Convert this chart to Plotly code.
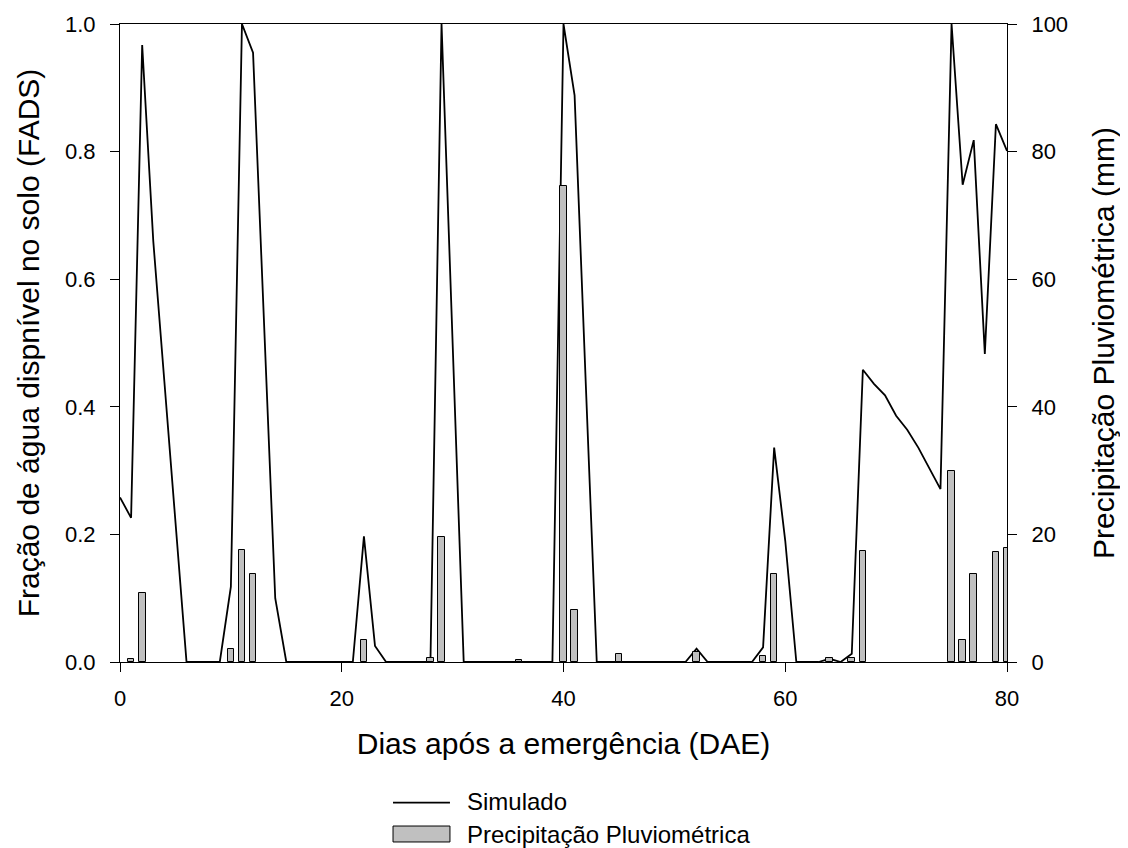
import plotly.graph_objects as go

days = list(range(0, 81))
fads = [0.258, 0.226, 0.967, 0.66, 0.44, 0.22, 0.0, 0.0, 0.0, 0.0,
        0.118, 1.0, 0.955, 0.53, 0.10, 0.0, 0.0, 0.0, 0.0, 0.0,
        0.0, 0.0, 0.197, 0.025, 0.0, 0.0, 0.0, 0.0, 0.0, 1.0,
        0.5, 0.0, 0.0, 0.0, 0.0, 0.0, 0.0, 0.0, 0.0, 0.0,
        1.0, 0.888, 0.44, 0.0, 0.0, 0.0, 0.0, 0.0, 0.0, 0.0,
        0.0, 0.0, 0.021, 0.0, 0.0, 0.0, 0.0, 0.0, 0.023, 0.336,
        0.19, 0.0, 0.0, 0.0, 0.005, 0.0, 0.013, 0.458, 0.436, 0.418,
        0.386, 0.364, 0.336, 0.304, 0.271, 1.0, 0.748, 0.818, 0.483, 0.843,
        0.801]

rain_days = [1, 2, 10, 11, 12, 22, 28, 29, 36, 40, 41, 45, 52, 58, 59, 64, 66, 67, 75, 76, 77, 79, 80]
rain_mm = [0.4, 10.8, 2.0, 17.6, 13.8, 3.5, 0.6, 19.6, 0.3, 74.6, 8.1, 1.3, 1.5, 1.0, 13.8, 0.6, 0.7, 17.4, 30.0, 3.5, 13.8, 17.2, 17.9]

legend_labels = ["Simulado", "Precipitação Pluviométrica"]

FONT = "Liberation Sans, Arial, sans-serif"
BAR_FILL = "#c0c0c0"

fig = go.Figure()
fig.add_trace(go.Scatter(x=days, y=fads, mode="lines", name=legend_labels[0],
                         line=dict(color="black", width=1.8), yaxis="y", showlegend=False))
fig.add_trace(go.Bar(x=rain_days, y=rain_mm, name=legend_labels[1], yaxis="y2", showlegend=False,
                     width=0.6, marker=dict(color=BAR_FILL, line=dict(color="black", width=1))))

axis_common = dict(showgrid=False, zeroline=False, showline=True, linecolor="black", linewidth=1,
                   ticks="outside", ticklen=9, tickcolor="black", tickwidth=1, automargin=False,
                   tickfont=dict(family=FONT, size=22, color="black"))

# custom legend (wide swatches as in the reference)
shapes = [
    dict(type="line", xref="paper", yref="paper", x0=0.3078, x1=0.3720, y0=-0.2205, y1=-0.2205,
         line=dict(color="black", width=1.8)),
    dict(type="rect", xref="paper", yref="paper", x0=0.3078, x1=0.3720, y0=-0.2571, y1=-0.2821,
         fillcolor=BAR_FILL, line=dict(color="black", width=1)),
]
annotations = [
    dict(xref="paper", yref="paper", x=0.389, y=-0.2194, text=legend_labels[0], showarrow=False,
         xanchor="left", yanchor="middle", font=dict(family=FONT, size=24, color="black")),
    dict(xref="paper", yref="paper", x=0.389, y=-0.2696, text=legend_labels[1], showarrow=False,
         xanchor="left", yanchor="middle", font=dict(family=FONT, size=24, color="black")),
]

fig.update_layout(
    width=1112, height=840,
    margin=dict(l=112, r=113, t=16, b=186),
    paper_bgcolor="white", plot_bgcolor="white",
    font=dict(family=FONT, color="black"),
    xaxis=dict(range=[0, 80], dtick=20, mirror=True, ticklabelstandoff=8,
               title=dict(text="Dias após a emergência (DAE)", font=dict(family=FONT, size=30), standoff=22),
               **axis_common),
    yaxis=dict(range=[0, 1], dtick=0.2, tickformat=".1f", ticklabelstandoff=10,
               title=dict(text="Fração de água dispnível no solo (FADS)", font=dict(family=FONT, size=30), standoff=16),
               **axis_common),
    yaxis2=dict(range=[0, 100], dtick=20, overlaying="y", side="right", ticklabelstandoff=10,
                title=dict(text="Precipitação Pluviométrica (mm)", font=dict(family=FONT, size=30), standoff=32),
                **axis_common),
    showlegend=False,
    shapes=shapes,
    annotations=annotations,
    bargap=0,
)

fig.write_html("out.html")
